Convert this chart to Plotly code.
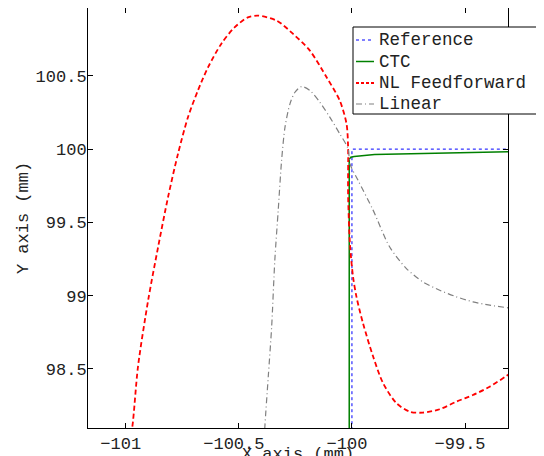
import plotly.graph_objects as go

# Reference trajectory
ref_x = [-100.0, -100.0, -99.31]
ref_y = [98.0, 100.0, 100.0]

# CTC
ctc_x = [-100.012, -100.012, -100.005, -99.99, -99.9, -99.6, -99.31]
ctc_y = [98.0, 99.93, 99.945, 99.95, 99.964, 99.975, 99.982]

# NL Feedforward
nl_x = [-100.985, -100.971, -100.946, -100.901, -100.857, -100.813, -100.769, -100.725,
        -100.681, -100.636, -100.578, -100.519, -100.460, -100.416, -100.333, -100.260,
        -100.186, -100.112, -100.054, -100.024, -100.017, -100.017, -100.009, -99.995,
        -99.980, -99.951, -99.906, -99.862, -99.803, -99.744, -99.686, -99.612, -99.538,
        -99.465, -99.391, -99.317, -99.30]
nl_y = [98.0, 98.106, 98.515, 98.969, 99.332, 99.673, 99.969, 100.218,
        100.400, 100.559, 100.718, 100.831, 100.899, 100.911, 100.877, 100.786,
        100.672, 100.490, 100.332, 100.173, 100.014, 99.696, 99.356, 99.128,
        98.992, 98.811, 98.583, 98.402, 98.266, 98.208, 98.202, 98.225, 98.277,
        98.322, 98.379, 98.452, 98.47]

# Linear
lin_x = [-100.388, -100.385, -100.370, -100.355, -100.341, -100.326, -100.311, -100.296,
         -100.274, -100.252, -100.223, -100.186, -100.142, -100.098, -100.054, -100.017,
         -100.009, -99.973, -99.906, -99.833, -99.759, -99.686, -99.612, -99.538,
         -99.465, -99.391, -99.31]
lin_y = [98.0, 98.106, 98.447, 98.787, 99.242, 99.582, 99.923, 100.150,
         100.309, 100.388, 100.427, 100.400, 100.320, 100.218, 100.105, 100.003,
         99.900, 99.787, 99.582, 99.332, 99.185, 99.094, 99.037, 98.992,
         98.958, 98.935, 98.917]

series_names = ["Reference", "CTC", "NL Feedforward", "Linear"]

x_ticks = [-101, -100.5, -100, -99.5]
x_tick_labels = ["\u2212101", "\u2212100.5", "\u2212100", "\u221299.5"]
y_ticks = [98.5, 99, 99.5, 100, 100.5]
y_tick_labels = ["98.5", "99", "99.5", "100", "100.5"]

FONT = "Liberation Mono, Courier New, monospace"
TXT = "#222"

styles = [
    dict(color="#0000ff", width=1, dash="dot"),
    dict(color="#008000", width=1.5, dash="solid"),
    dict(color="#ff0000", width=1.8, dash="5px,3px"),
    dict(color="#808080", width=1.2, dash="6px,3px,1px,3px"),
]
data = [(ref_x, ref_y, "linear"), (ctc_x, ctc_y, "linear"),
        (nl_x, nl_y, "spline"), (lin_x, lin_y, "spline")]

fig = go.Figure()
for (xs, ys, shape), name, st in zip(data, series_names, styles):
    fig.add_trace(go.Scatter(x=xs, y=ys, mode="lines", name=name, showlegend=False,
                             line=dict(shape=shape, smoothing=0.8 if shape == "spline" else None,
                                       **st)))

axis_common = dict(showgrid=False, zeroline=False, showline=True, linecolor="black",
                   linewidth=1, mirror="ticks", ticks="inside", ticklen=5,
                   tickcolor="black", tickfont=dict(family=FONT, size=17, color=TXT))

fig.update_xaxes(range=[-101.167, -99.31], tickvals=x_ticks, ticktext=x_tick_labels,
                 ticklabelshift=-5,
                 title=dict(text="X axis (mm)", font=dict(family=FONT, size=17, color=TXT),
                            standoff=20),
                 automargin=False, **axis_common)
fig.update_yaxes(range=[98.097, 100.963], tickvals=y_ticks, ticktext=y_tick_labels,
                 ticklabelstandoff=-3,
                 title=dict(text="Y axis (mm)", font=dict(family=FONT, size=17, color=TXT),
                            standoff=2),
                 automargin=False, **axis_common)

# Manual MATLAB-style legend (paper coordinates)
PL, PT, PW, PH = 80, 0, 420, 420  # plot area in figure px (page is offset by body margin)
def px(fx):
    return (fx - PL) / PW
def py(fy):
    return (PT + PH - fy) / PH

shapes = [dict(type="rect", xref="paper", yref="paper",
               x0=px(345), x1=px(529), y0=py(106), y1=py(19),
               line=dict(color="black", width=1), fillcolor="white", layer="above")]
annotations = []
row_y = [32, 53.5, 75, 96]
for name, st, ry in zip(series_names, styles, row_y):
    shapes.append(dict(type="line", xref="paper", yref="paper",
                       x0=px(348), x1=px(366), y0=py(ry), y1=py(ry),
                       line=dict(color=st["color"], width=st["width"],
                                 dash=st["dash"] if st["dash"] != "5px,3px" else "3px,2px"),
                       layer="above"))
    annotations.append(dict(xref="paper", yref="paper", x=px(369), y=py(ry),
                            xanchor="left", yanchor="middle", showarrow=False,
                            text=name, font=dict(family=FONT, size=17.5, color=TXT)))

fig.update_layout(
    width=544, height=456,
    margin=dict(l=80, r=44, t=0, b=36),
    plot_bgcolor="white", paper_bgcolor="white",
    font=dict(family=FONT, size=17, color=TXT),
    showlegend=False,
    shapes=shapes, annotations=annotations,
)

fig.write_html("out.html")
